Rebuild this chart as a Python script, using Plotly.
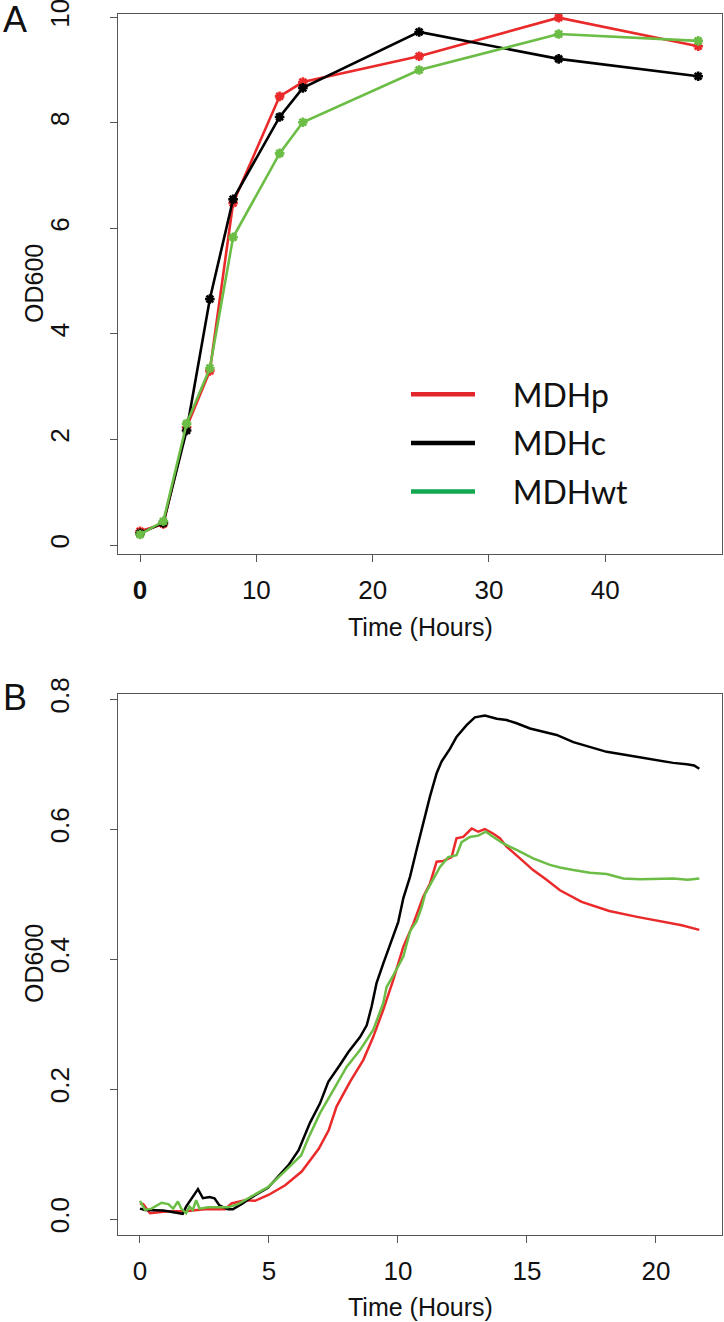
import plotly.graph_objects as go

W, H = 724, 1322

# ---------------- Panel A data (OD600 vs time, flask cultures) ----------------
time_a = [0, 2, 4, 6, 8, 12, 14, 24, 36, 48]
mdhp_a = [0.26, 0.40, 2.23, 3.30, 6.48, 8.50, 8.77, 9.26, 9.99, 9.45]
mdhc_a = [0.22, 0.42, 2.17, 4.66, 6.55, 8.11, 8.66, 9.72, 9.21, 8.88]
mdhwt_a = [0.20, 0.45, 2.30, 3.35, 5.83, 7.42, 8.01, 9.00, 9.68, 9.55]

# ---------------- Panel B data (plate reader curves) ----------------
mdhp_b_t = [0, 0.13, 0.39, 1.1, 1.74, 2.52, 3.3, 3.55, 4.07, 4.46, 4.98, 5.63, 6.27,
            6.93, 7.32, 7.62, 8.14, 8.66, 9.04, 9.43, 9.82, 10.21, 10.6, 10.98, 11.24,
            11.5, 11.76, 12.08, 12.27, 12.53, 12.86, 13.11, 13.37, 13.7, 13.95, 14.21,
            14.73, 15.24, 15.76, 16.28, 17.12, 18.19, 19.27, 20.34, 21.0, 21.68]
mdhp_b_v = [0.024, 0.023, 0.009, 0.012, 0.012, 0.015, 0.015, 0.024, 0.029, 0.028, 0.037,
            0.052, 0.073, 0.108, 0.137, 0.173, 0.211, 0.245, 0.280, 0.322, 0.368, 0.419,
            0.455, 0.496, 0.516, 0.550, 0.551, 0.557, 0.586, 0.588, 0.601, 0.596, 0.600,
            0.593, 0.586, 0.573, 0.555, 0.537, 0.522, 0.506, 0.488, 0.474, 0.465, 0.457,
            0.452, 0.445]

mdhc_b_t = [0, 0.2, 0.9, 1.47, 1.66, 1.79, 2.05, 2.25, 2.44, 2.70, 2.89, 3.08, 3.41,
            3.60, 3.98, 4.31, 4.96, 5.76, 6.15, 6.33, 6.59, 6.98, 7.30, 7.75, 8.08, 8.53,
            8.79, 8.98, 9.17, 9.43, 9.76, 10.01, 10.21, 10.47, 10.72, 10.98, 11.24, 11.5,
            11.69, 12.02, 12.27, 12.66, 12.98, 13.37, 13.83, 14.21, 14.6, 15.12, 15.5,
            16.15, 16.80, 17.44, 18.09, 18.73, 19.38, 20.03, 20.67, 21.19, 21.48, 21.68]
mdhc_b_v = [0.016, 0.014, 0.013, 0.009, 0.008, 0.019, 0.034, 0.046, 0.032, 0.034, 0.032,
            0.021, 0.015, 0.015, 0.024, 0.033, 0.048, 0.083, 0.106, 0.124, 0.148, 0.178,
            0.211, 0.237, 0.257, 0.280, 0.298, 0.327, 0.363, 0.393, 0.429, 0.457, 0.494,
            0.527, 0.568, 0.609, 0.650, 0.686, 0.704, 0.724, 0.742, 0.760, 0.772, 0.775,
            0.770, 0.768, 0.763, 0.755, 0.751, 0.745, 0.734, 0.727, 0.719, 0.715, 0.711,
            0.707, 0.702, 0.700, 0.698, 0.693]

mdhwt_b_t = [0, 0.2, 0.45, 0.84, 1.1, 1.29, 1.47, 1.6, 1.79, 1.92, 2.05, 2.18, 2.31,
             2.64, 3.02, 3.41, 3.8, 4.31, 4.96, 5.6, 6.25, 6.52, 6.98, 7.49, 8.01, 8.53,
             9.04, 9.43, 9.56, 9.82, 10.21, 10.47, 10.72, 10.92, 11.05, 11.31, 11.63,
             11.95, 12.27, 12.47, 12.79, 13.11, 13.41, 13.7, 14.08, 14.6, 15.24, 15.89,
             16.28, 16.80, 17.44, 18.09, 18.73, 19.38, 20.03, 20.67, 21.24, 21.68]
mdhwt_b_v = [0.028, 0.014, 0.016, 0.025, 0.023, 0.016, 0.027, 0.016, 0.009, 0.019, 0.014,
             0.029, 0.016, 0.018, 0.018, 0.018, 0.023, 0.034, 0.049, 0.073, 0.098, 0.124,
             0.163, 0.198, 0.234, 0.260, 0.291, 0.332, 0.357, 0.375, 0.404, 0.443, 0.458,
             0.480, 0.500, 0.519, 0.542, 0.557, 0.560, 0.580, 0.588, 0.590, 0.596, 0.588,
             0.578, 0.568, 0.555, 0.545, 0.541, 0.537, 0.533, 0.531, 0.524, 0.523, 0.524,
             0.524, 0.522, 0.524]

series_names = ["MDHp", "MDHc", "MDHwt"]
line_colors = ["#EA2A2A", "#000000", "#6BBD45"]
legend_colors = ["#E3262B", "#000000", "#11A84F"]

xticks_a = [0, 10, 20, 30, 40]
xticktext_a = ["<b>0</b>", "10", "20", "30", "40"]
yticks_a = [0, 2, 4, 6, 8, 10]
xticks_b = [0, 5, 10, 15, 20]
yticks_b = [0.0, 0.2, 0.4, 0.6, 0.8]

fig = go.Figure()

# Panel A traces
for name, ys, col in zip(series_names, [mdhp_a, mdhc_a, mdhwt_a], line_colors):
    fig.add_trace(go.Scatter(
        x=time_a, y=ys, mode="lines+markers", name=name, showlegend=False,
        line=dict(color=col, width=2.6),
        marker=dict(symbol="asterisk-open", size=8, color=col,
                    line=dict(color=col, width=2.6)),
        xaxis="x", yaxis="y"))

# Panel B traces
for name, ts, vs, col in zip(series_names, [mdhp_b_t, mdhc_b_t, mdhwt_b_t],
                             [mdhp_b_v, mdhc_b_v, mdhwt_b_v], line_colors):
    fig.add_trace(go.Scatter(
        x=ts, y=vs, mode="lines", name=name, showlegend=False,
        line=dict(color=col, width=2.5), xaxis="x2", yaxis="y2"))

# Legend entries (padding with no-break spaces to open the gap between key and label)
pad = "\u00a0" * 4
for name, col in zip(series_names, legend_colors):
    fig.add_trace(go.Scatter(
        x=[None], y=[None], mode="lines", name=pad + name, legendgroup=name,
        line=dict(color=col, width=4.5), xaxis="x", yaxis="y"))

tickfont = dict(family="Liberation Sans, Arial, sans-serif", size=26, color="#111")
axcol = "#555555"


def ax_common():
    return dict(showline=True, linecolor=axcol, linewidth=1.3, mirror=True,
                ticks="outside", ticklen=7, tickwidth=1.2, tickcolor=axcol,
                showgrid=False, zeroline=False, tickfont=tickfont, automargin=False,
                ticklabeloverflow="allow")


def px_x(p):
    return p / W


def px_y(p):
    return 1 - p / H


fig.update_layout(
    template="none",
    width=W, height=H, autosize=False,
    margin=dict(l=0, r=0, t=0, b=0, pad=0, autoexpand=False),
    paper_bgcolor="white", plot_bgcolor="white",
    xaxis=dict(domain=[px_x(118), px_x(722)], range=[-1.9, 50.05],
               tickvals=xticks_a, ticktext=xticktext_a, anchor="y",
               ticklabelstandoff=6, **ax_common()),
    yaxis=dict(domain=[px_y(554), px_y(14)], range=[-0.17, 10.06],
               tickvals=yticks_a, tickangle=-90, anchor="x",
               ticklabelstandoff=30, **ax_common()),
    xaxis2=dict(domain=[px_x(118), px_x(722)], range=[-0.85, 22.56],
                tickvals=xticks_b, anchor="y2", ticklabelstandoff=6, **ax_common()),
    yaxis2=dict(domain=[px_y(1235), px_y(694)], range=[-0.0246, 0.808],
                tickvals=yticks_b, tickformat=".1f", tickangle=-90, anchor="x2",
                ticklabelstandoff=30, **ax_common()),
    legend=dict(x=px_x(406), y=px_y(367), xanchor="left", yanchor="top",
                font=dict(family="Lato, Liberation Sans, sans-serif", size=32, color="#111"),
                bgcolor="rgba(0,0,0,0)", borderwidth=0, tracegroupgap=4,
                itemwidth=64),
    showlegend=True,
)

labfont = dict(family="Liberation Sans, Arial, sans-serif", size=25, color="#111")
annots = [
    dict(text="Time (Hours)", x=px_x(420), y=px_y(627), font=labfont),
    dict(text="Time (Hours)", x=px_x(420), y=px_y(1307), font=labfont),
    dict(text="OD600", x=px_x(34), y=px_y(284), textangle=-90, font=labfont),
    dict(text="OD600", x=px_x(34), y=px_y(964), textangle=-90, font=labfont),
    dict(text="A", x=px_x(15), y=px_y(19),
         font=dict(family="Liberation Sans, Arial, sans-serif", size=36, color="#111")),
    dict(text="B", x=px_x(15), y=px_y(697),
         font=dict(family="Liberation Sans, Arial, sans-serif", size=36, color="#111")),
]
for a in annots:
    fig.add_annotation(xref="paper", yref="paper", showarrow=False,
                       xanchor="center", yanchor="middle", **a)

fig.write_html(
    "out.html",
    config={"displayModeBar": False},
    post_script="document.body.style.margin='0px';document.body.style.overflow='hidden';",
)
